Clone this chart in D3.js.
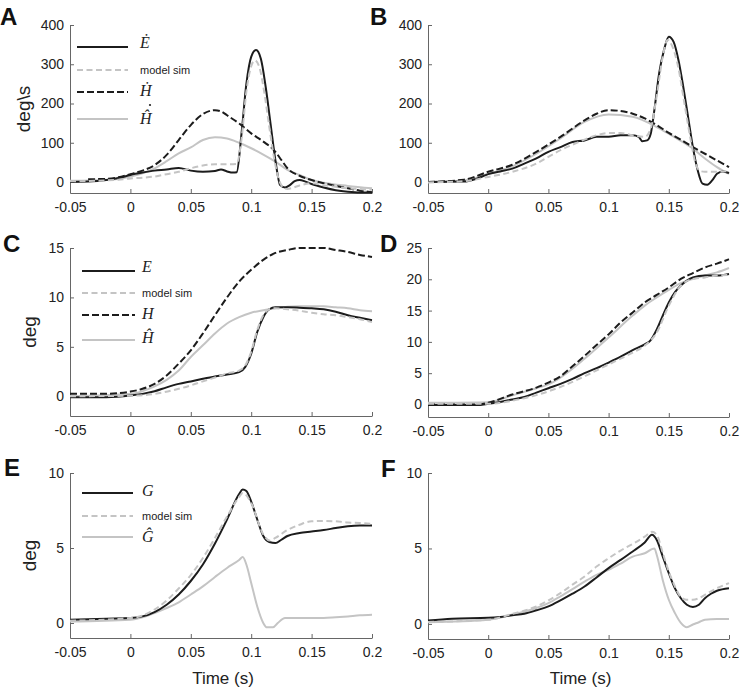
<!DOCTYPE html>
<html><head><meta charset="utf-8">
<script src="https://cdn.jsdelivr.net/npm/d3@7"></script>
<style>body{margin:0;background:#fff}</style>
</head><body>
<svg id="chart" width="740" height="689"></svg>
<script>
// ---------- DATA ----------
const xTickValues = [-0.05, 0, 0.05, 0.1, 0.15, 0.2];
const xTickLabels = ["-0.05", "0", "0.05", "0.1", "0.15", "0.2"];
const yTicksAB = [0, 100, 200, 300, 400];
const yTicksC = [0, 5, 10, 15];
const yTicksD = [0, 5, 10, 15, 20, 25];
const yTicksEF = [0, 5, 10];

// Panel A (velocities, deg\s)
const aEdot = [[-0.05,0],[-0.035,1],[-0.02,5],[-0.01,10],[0,18],[0.01,24],[0.02,29],[0.03,32],[0.04,36],[0.05,29],[0.06,26],[0.07,28],[0.075,32],[0.08,27],[0.085,24],[0.088,25],[0.092,124],[0.096,250],[0.1,319],[0.104,336],[0.108,314],[0.112,242],[0.116,149],[0.12,56],[0.124,-8],[0.128,-14],[0.132,-8],[0.136,2],[0.14,5],[0.145,1],[0.15,-5],[0.16,-14],[0.17,-21],[0.18,-25],[0.19,-27],[0.2,-27]];
const aSim = [[-0.05,2],[-0.03,3],[-0.01,6],[0,9],[0.01,11],[0.02,14],[0.03,20],[0.04,26],[0.05,35],[0.06,42],[0.07,45],[0.08,45],[0.088,46],[0.092,110],[0.096,230],[0.1,295],[0.103,310],[0.107,290],[0.111,225],[0.115,140],[0.119,60],[0.123,5],[0.127,-15],[0.13,-18],[0.135,-14],[0.14,-9],[0.15,-3],[0.16,-8],[0.17,-12],[0.18,-16],[0.19,-18],[0.2,-20]];
const aHdot = [[-0.035,7],[-0.02,8],[-0.01,12],[0,20],[0.01,29],[0.02,43],[0.03,69],[0.04,107],[0.05,145],[0.06,173],[0.07,183],[0.075,180],[0.08,170],[0.09,149],[0.1,124],[0.11,103],[0.12,77],[0.125,56],[0.13,35],[0.14,16],[0.15,5],[0.16,-3],[0.17,-10],[0.18,-16],[0.19,-22],[0.2,-26]];
const aHhat = [[-0.05,3],[-0.02,5],[0,14],[0.01,22],[0.02,35],[0.03,53],[0.04,73],[0.05,88],[0.06,107],[0.07,114],[0.08,111],[0.09,100],[0.1,86],[0.11,70],[0.12,52],[0.13,31],[0.14,18],[0.15,5],[0.16,-2],[0.18,-10],[0.2,-16]];

// Panel B
const bEdot = [[-0.05,0],[-0.02,1],[-0.01,8],[0,20],[0.01,27],[0.02,34],[0.03,47],[0.04,60],[0.05,77],[0.06,89],[0.07,102],[0.08,106],[0.09,115],[0.1,115],[0.11,119],[0.12,119],[0.125,115],[0.128,104],[0.132,106],[0.135,123],[0.138,183],[0.142,277],[0.146,336],[0.15,370],[0.154,357],[0.158,311],[0.162,243],[0.166,166],[0.17,89],[0.174,30],[0.178,-4],[0.182,-7],[0.186,4],[0.19,21],[0.195,27],[0.2,23]];
const bSim = [[-0.05,-1],[-0.02,2],[0,13],[0.02,26],[0.04,47],[0.05,64],[0.06,81],[0.07,95],[0.08,108],[0.09,119],[0.1,125],[0.11,125],[0.12,119],[0.13,115],[0.135,136],[0.14,220],[0.145,320],[0.149,362],[0.153,345],[0.158,290],[0.163,200],[0.168,110],[0.172,50],[0.176,28],[0.18,26],[0.19,26],[0.2,28]];
const bHdot = [[-0.05,0],[-0.02,6],[0,26],[0.02,44],[0.04,77],[0.06,115],[0.08,157],[0.09,174],[0.1,183],[0.11,181],[0.12,174],[0.13,162],[0.14,145],[0.15,125],[0.16,108],[0.17,89],[0.18,72],[0.19,55],[0.2,38]];
const bHhat = [[-0.05,0],[-0.02,4],[0,21],[0.02,40],[0.04,72],[0.06,111],[0.08,153],[0.1,172],[0.12,166],[0.14,140],[0.15,123],[0.16,105],[0.17,85],[0.18,60],[0.19,38],[0.2,21]];

// Panel C (positions, deg)
const cE = [[-0.05,-0.1],[-0.02,-0.1],[0,0.07],[0.01,0.24],[0.02,0.5],[0.03,0.9],[0.04,1.25],[0.05,1.5],[0.06,1.76],[0.07,2.0],[0.08,2.2],[0.09,2.44],[0.095,2.95],[0.1,4.3],[0.105,6.5],[0.11,8.0],[0.115,8.8],[0.12,9.0],[0.13,9.0],[0.14,8.96],[0.15,8.9],[0.16,8.8],[0.17,8.55],[0.18,8.2],[0.19,7.94],[0.2,7.7]];
const cSim = [[-0.05,0],[0,0.05],[0.02,0.24],[0.04,0.75],[0.05,1.1],[0.06,1.5],[0.07,1.9],[0.08,2.3],[0.09,2.6],[0.095,3.1],[0.1,4.5],[0.105,6.7],[0.11,8.2],[0.115,8.8],[0.12,8.9],[0.13,8.8],[0.14,8.65],[0.15,8.45],[0.16,8.3],[0.17,8.2],[0.18,8.0],[0.19,7.8],[0.2,7.5]];
const cH = [[-0.05,0.24],[-0.02,0.25],[0,0.47],[0.01,0.75],[0.02,1.25],[0.03,2.1],[0.04,3.3],[0.05,4.65],[0.06,6.35],[0.07,8.2],[0.08,10.0],[0.09,11.6],[0.1,12.8],[0.11,13.8],[0.12,14.5],[0.13,14.8],[0.14,15.0],[0.15,15.0],[0.16,15.0],[0.17,14.8],[0.18,14.6],[0.19,14.3],[0.2,14.1]];
const cHhat = [[-0.05,0],[0,0.24],[0.02,1.0],[0.03,1.66],[0.04,2.6],[0.05,3.97],[0.06,5.15],[0.07,6.35],[0.08,7.36],[0.09,8.0],[0.1,8.45],[0.11,8.7],[0.12,8.9],[0.13,9.06],[0.14,9.1],[0.15,9.1],[0.16,9.1],[0.17,9.0],[0.18,8.9],[0.19,8.7],[0.2,8.6]];

// Panel D
const dE = [[-0.05,-0.1],[-0.01,-0.1],[0,0.1],[0.01,0.4],[0.02,0.8],[0.03,1.2],[0.04,1.9],[0.05,2.6],[0.06,3.3],[0.07,4.1],[0.08,5.0],[0.09,5.8],[0.1,6.7],[0.11,7.65],[0.12,8.7],[0.13,9.6],[0.135,10.3],[0.14,12.0],[0.145,14.2],[0.15,16.3],[0.155,17.9],[0.16,19.0],[0.165,19.8],[0.17,20.3],[0.18,20.6],[0.19,20.6],[0.2,20.85]];
const dSim = [[-0.05,0.1],[0,0.1],[0.02,0.6],[0.04,1.5],[0.05,2.1],[0.06,2.8],[0.08,4.5],[0.1,6.4],[0.12,8.3],[0.13,9.4],[0.14,11.5],[0.15,15.8],[0.16,19.0],[0.17,20.05],[0.18,20.3],[0.19,20.6],[0.2,20.7]];
const dH = [[-0.05,0],[-0.01,0],[0,0.27],[0.02,1.6],[0.04,2.7],[0.05,3.5],[0.06,4.5],[0.07,6.1],[0.08,7.75],[0.09,9.5],[0.1,11.2],[0.11,13.1],[0.12,14.7],[0.13,16.3],[0.14,17.5],[0.15,18.7],[0.16,20.05],[0.17,21.0],[0.18,21.9],[0.19,22.5],[0.2,23.2]];
const dHhat = [[-0.05,0.27],[0,0.37],[0.02,1.45],[0.04,2.6],[0.05,3.2],[0.06,4.3],[0.08,7.3],[0.1,10.7],[0.12,14.2],[0.13,15.8],[0.14,17.1],[0.15,18.3],[0.16,19.4],[0.17,20.05],[0.18,20.6],[0.19,21.1],[0.2,21.8]];

// Panel E (gaze, deg)
const eG = [[-0.05,0.22],[-0.02,0.29],[0,0.33],[0.01,0.44],[0.02,0.73],[0.03,1.22],[0.04,1.9],[0.05,2.8],[0.06,3.9],[0.07,5.3],[0.08,6.9],[0.09,8.6],[0.093,8.9],[0.096,8.8],[0.1,8.1],[0.105,6.9],[0.11,5.8],[0.115,5.4],[0.12,5.33],[0.125,5.55],[0.13,5.8],[0.14,6.0],[0.15,6.1],[0.16,6.2],[0.17,6.33],[0.18,6.45],[0.19,6.5],[0.2,6.5]];
const eSim = [[-0.05,0.15],[0,0.33],[0.01,0.5],[0.02,0.9],[0.03,1.5],[0.04,2.3],[0.05,3.2],[0.06,4.33],[0.07,5.67],[0.08,7.1],[0.09,8.4],[0.093,8.67],[0.1,8.0],[0.11,5.9],[0.115,5.5],[0.12,5.67],[0.13,6.2],[0.14,6.55],[0.15,6.78],[0.16,6.8],[0.17,6.78],[0.18,6.7],[0.19,6.67],[0.2,6.6]];
const eGhat = [[-0.05,0.1],[0,0.22],[0.01,0.38],[0.02,0.67],[0.03,1.0],[0.04,1.38],[0.05,1.9],[0.06,2.44],[0.07,3.07],[0.08,3.67],[0.09,4.2],[0.093,4.4],[0.096,3.9],[0.1,2.67],[0.105,1.1],[0.11,0.0],[0.113,-0.29],[0.118,-0.29],[0.122,0],[0.128,0.33],[0.14,0.33],[0.16,0.33],[0.17,0.38],[0.18,0.44],[0.19,0.51],[0.2,0.55]];

// Panel F
const fG = [[-0.05,0.22],[-0.03,0.35],[0,0.4],[0.01,0.46],[0.02,0.57],[0.03,0.68],[0.04,0.9],[0.05,1.16],[0.06,1.56],[0.07,2.0],[0.08,2.48],[0.09,3.08],[0.1,3.7],[0.11,4.24],[0.12,4.8],[0.13,5.4],[0.136,5.9],[0.14,5.56],[0.145,4.46],[0.15,3.36],[0.155,2.37],[0.16,1.7],[0.165,1.27],[0.17,1.12],[0.175,1.27],[0.18,1.7],[0.185,2.0],[0.19,2.2],[0.2,2.37]];
const fSim = [[-0.05,0.13],[0,0.28],[0.02,0.66],[0.04,1.16],[0.05,1.56],[0.06,2.04],[0.07,2.6],[0.08,3.14],[0.09,3.8],[0.1,4.35],[0.11,4.86],[0.12,5.3],[0.13,5.78],[0.136,6.1],[0.14,5.9],[0.145,4.7],[0.15,3.47],[0.155,2.5],[0.16,1.78],[0.165,1.6],[0.17,1.6],[0.175,1.7],[0.18,1.93],[0.19,2.37],[0.2,2.7]];
const fGhat = [[-0.05,0.11],[0,0.28],[0.02,0.62],[0.04,1.05],[0.05,1.38],[0.06,1.82],[0.07,2.3],[0.08,2.8],[0.09,3.25],[0.1,3.58],[0.11,4.0],[0.12,4.46],[0.13,4.68],[0.138,5.0],[0.14,4.57],[0.145,2.9],[0.15,1.6],[0.155,0.73],[0.16,0.07],[0.165,-0.22],[0.17,-0.04],[0.175,0.11],[0.18,0.28],[0.19,0.33],[0.2,0.33]];

// legend labels (the dot over the hat of the last A label is drawn as a small mark)
const legendA = ["E\u0307", "model sim", "H\u0307", "\u0124"];
const legendADots = [false, false, false, true];
const legendC = ["E", "model sim", "H", "\u0124"];
const legendE = ["G", "model sim", "\u011C"];

// ---------- STYLES ----------
const BLACK = "#1c1c1c", GRAY = "#c4c4c4";
const sty = {
  blackSolid: {c: BLACK, dash: null},
  blackDash:  {c: BLACK, dash: "7,3"},
  graySolid:  {c: GRAY, dash: null},
  grayDash:   {c: GRAY, dash: "6,3.5"}
};

const svg = d3.select("#chart");
const FONT = "'Liberation Sans', Arial, Helvetica, sans-serif";
const SERIF = "'Liberation Serif', 'Times New Roman', serif";

function panel(cfg) {
  const x = d3.scaleLinear().domain([-0.05, 0.2]).range(cfg.xr);
  const y = d3.scaleLinear().domain(cfg.yd).range(cfg.yr);
  const g = svg.append("g");

  const xa = d3.axisBottom(x).tickValues(xTickValues)
    .tickFormat((d, i) => xTickLabels[i]).tickSizeInner(-4).tickSizeOuter(0).tickPadding(9);
  const ya = d3.axisLeft(y).tickValues(cfg.yt).tickFormat(d3.format("d"))
    .tickSizeInner(-4).tickSizeOuter(0).tickPadding(6);

  const gx = g.append("g").attr("transform", `translate(0,${cfg.yr[0]})`).call(xa);
  const gy = g.append("g").attr("transform", `translate(${cfg.xr[0]},0)`).call(ya);
  [gx, gy].forEach(a => {
    a.select(".domain").attr("stroke", "#666").attr("stroke-width", 1);
    a.selectAll(".tick line").attr("stroke", "#666");
    a.selectAll(".tick text").attr("font-family", FONT).attr("font-size", 14).attr("fill", "#222");
  });

  const line = d3.line().x(d => x(d[0])).y(d => y(d[1])).curve(d3.curveMonotoneX);
  cfg.series.forEach(s => {
    g.append("path").datum(s.data).attr("d", line)
      .attr("fill", "none").attr("stroke", s.st.c).attr("stroke-width", 2)
      .attr("stroke-dasharray", s.st.dash).attr("stroke-linejoin", "round");
  });

  svg.append("text").attr("x", cfg.letter[0]).attr("y", cfg.letter[1])
    .attr("font-family", FONT).attr("font-weight", "bold").attr("font-size", 24)
    .attr("fill", "#111").text(cfg.id);

  if (cfg.ylabel) {
    const cy = (cfg.yr[0] + cfg.yr[1]) / 2;
    svg.append("text").attr("transform", `translate(${cfg.ylx},${cy}) rotate(-90)`)
      .attr("text-anchor", "middle").attr("font-family", FONT).attr("font-size", 19)
      .attr("fill", "#222").text(cfg.ylabel);
  }
  if (cfg.xlabel) {
    svg.append("text").attr("x", (cfg.xr[0] + cfg.xr[1]) / 2 + 2).attr("y", 684)
      .attr("text-anchor", "middle").attr("font-family", FONT).attr("font-size", 17)
      .attr("fill", "#222").text(cfg.xlabel);
  }
  if (cfg.legend) {
    const L = cfg.legend;
    L.labels.forEach((lab, i) => {
      const ly = L.ys[i];
      const st = L.styles[i];
      svg.append("line").attr("x1", L.x1).attr("x2", L.x2).attr("y1", ly).attr("y2", ly)
        .attr("stroke", st.c).attr("stroke-width", 2).attr("stroke-dasharray", st.dash);
      const isSim = lab === "model sim";
      const by = ly + L.off[i];
      svg.append("text").attr("x", L.tx).attr("y", by)
        .attr("font-family", isSim ? FONT : SERIF)
        .attr("font-style", isSim ? "normal" : "italic")
        .attr("font-size", isSim ? 11 : 16).attr("fill", "#222").text(lab);
      if (L.dots && L.dots[i]) {
        svg.append("circle").attr("cx", L.tx + 10).attr("cy", by - 19).attr("r", 1.1)
          .attr("fill", "#222");
      }
    });
  }
}

const XL = [70, 372], XR = [428, 729];

panel({id: "A", xr: XL, yd: [-28, 400], yr: [193, 25], yt: yTicksAB, letter: [0, 25],
  ylabel: "deg\\s", ylx: 30,
  series: [{data: aHhat, st: sty.graySolid}, {data: aHdot, st: sty.blackDash}, {data: aEdot, st: sty.blackSolid}, {data: aSim, st: sty.grayDash}],
  legend: {x1: 77, x2: 128, tx: 140, ys: [47, 70, 92, 119], off: [1, 4, 4, 5], labels: legendA, dots: legendADots,
    styles: [sty.blackSolid, sty.grayDash, sty.blackDash, sty.graySolid]}});
panel({id: "B", xr: XR, yd: [-28, 400], yr: [193, 25], yt: yTicksAB, letter: [370, 25],
  series: [{data: bHhat, st: sty.graySolid}, {data: bHdot, st: sty.blackDash}, {data: bEdot, st: sty.blackSolid}, {data: bSim, st: sty.grayDash}]});
panel({id: "C", xr: XL, yd: [-2, 15], yr: [416, 248], yt: yTicksC, letter: [3, 252],
  ylabel: "deg", ylx: 36,
  series: [{data: cHhat, st: sty.graySolid}, {data: cH, st: sty.blackDash}, {data: cE, st: sty.blackSolid}, {data: cSim, st: sty.grayDash}],
  legend: {x1: 82, x2: 135, tx: 142, ys: [271, 293, 315, 340], off: [1, 4, 4, 3], labels: legendC,
    styles: [sty.blackSolid, sty.grayDash, sty.blackDash, sty.graySolid]}});
panel({id: "D", xr: XR, yd: [-2, 25], yr: [417, 248], yt: yTicksD, letter: [380, 252],
  series: [{data: dHhat, st: sty.graySolid}, {data: dH, st: sty.blackDash}, {data: dE, st: sty.blackSolid}, {data: dSim, st: sty.grayDash}]});
panel({id: "E", xr: XL, yd: [-1, 10], yr: [638, 473], yt: yTicksEF, letter: [4, 476],
  ylabel: "deg", ylx: 36, xlabel: "Time (s)",
  series: [{data: eGhat, st: sty.graySolid}, {data: eG, st: sty.blackSolid}, {data: eSim, st: sty.grayDash}],
  legend: {x1: 82, x2: 133, tx: 142, ys: [493, 516, 537], off: [3, 4, 5], labels: legendE,
    styles: [sty.blackSolid, sty.grayDash, sty.graySolid]}});
panel({id: "F", xr: XR, yd: [-1, 10], yr: [639, 473], yt: yTicksEF, letter: [381, 477],
  xlabel: "Time (s)",
  series: [{data: fGhat, st: sty.graySolid}, {data: fG, st: sty.blackSolid}, {data: fSim, st: sty.grayDash}]});
</script>
</body></html>
